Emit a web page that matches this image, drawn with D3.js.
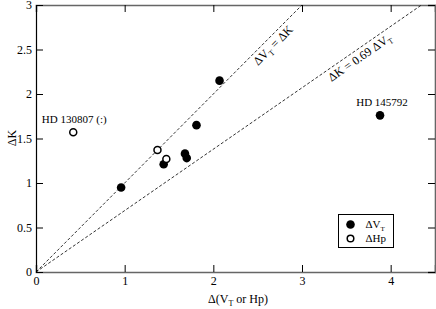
<!DOCTYPE html>
<html lang="en">
<head>
<meta charset="UTF-8">
<title>ΔK vs Δ(VT or Hp)</title>
<script src="https://cdn.jsdelivr.net/npm/d3@7"></script>
<style>
    body { margin: 0; background: #fff; }
    svg text { font-family: "Liberation Serif", "Times New Roman", serif; fill: #000; }
    .tick text { font-size: 12px; }
    .dash { fill: none; stroke: #000; stroke-width: 0.8; stroke-dasharray: 3,2; }
    .note { font-size: 11px; }
</style>
</head>
<body>
<svg width="436" height="309"></svg>
<script>
    // values
    const vtX = [0.96, 1.44, 1.68, 1.70, 1.81, 2.07, 3.88];
    const vtY = [0.95, 1.21, 1.33, 1.28, 1.65, 2.15, 1.76];
    const hpX = [0.42, 1.37, 1.47];
    const hpY = [1.57, 1.37, 1.27];
    const slopes = [1, 0.69];
    const xMajor = [0, 1, 2, 3, 4];
    const xMinor = [0.5, 1.5, 2.5, 3.5];
    const yMajor = [0, 0.5, 1, 1.5, 2, 2.5, 3];
    const yMinor = [0.25, 0.75, 1.25, 1.75, 2.25, 2.75];

    const svg = d3.select("svg").style("display", "block");
    const x = d3.scaleLinear().domain([0, 4.5]).range([36, 435]);
    const y = d3.scaleLinear().domain([0, 3]).range([272, 5]);

    // axes, ticks pointing inward on all four sides
    function addAxis(make, transform, major, minor, labels, stroke, sw) {
        const g = svg.append("g").attr("transform", transform);
        g.call(make().tickValues(minor).tickSize(-4).tickFormat(""));
        g.call(make().tickValues(major).tickSize(-7).tickPadding(4)
            .tickFormat(labels ? d3.format("") : ""));
        g.attr("font-family", null).attr("font-size", null);
        g.selectAll(".domain").attr("stroke", stroke).attr("stroke-width", sw);
        g.selectAll(".tick line").attr("stroke", "#000");
        return g;
    }
    addAxis(() => d3.axisBottom(x), "translate(0,272)", xMajor, xMinor, true, "#666", 1.6);
    addAxis(() => d3.axisTop(x), "translate(0,5)", xMajor, xMinor, false, "#666", 1.6);
    addAxis(() => d3.axisLeft(y), "translate(36,0)", yMajor, yMinor, true, "#000", 1.2);
    addAxis(() => d3.axisRight(y), "translate(435,0)", yMajor, yMinor, false, "#666", 1.6);

    // reference lines through the origin
    slopes.forEach(s => {
        const xEnd = Math.min(4.5, 3 / s);
        svg.append("line").attr("class", "dash")
            .attr("x1", x(0)).attr("y1", y(0))
            .attr("x2", x(xEnd)).attr("y2", y(s * xEnd));
    });

    function lineLabel(s, at, parts) {
        const ang = Math.atan2(y(s) - y(0), x(1) - x(0)) * 180 / Math.PI;
        const t = svg.append("text").style("font-size", "12px")
            .attr("text-anchor", "middle")
            .attr("transform", `translate(${x(at)},${y(s * at)}) rotate(${ang})`)
            .attr("y", 12);
        parts.forEach(p => {
            const sp = t.append("tspan").text(p[0]);
            if (p[1]) sp.style("font-size", "8px").attr("dy", 3);
            else if (p[2]) sp.attr("dy", -3);
        });
    }
    lineLabel(1, 2.61, [["ΔV"], ["T", 1], [" = ΔK", 0, 1]]);
    lineLabel(0.69, 3.6, [["ΔK = 0.69 ΔV"], ["T", 1]]);

    // points
    svg.append("g").selectAll("circle")
        .data(vtX.map((d, i) => [d, vtY[i]]))
        .join("circle")
        .attr("cx", d => x(d[0])).attr("cy", d => y(d[1]))
        .attr("r", 4.3).attr("fill", "#000");

    svg.append("g").selectAll("circle")
        .data(hpX.map((d, i) => [d, hpY[i]]))
        .join("circle")
        .attr("cx", d => x(d[0])).attr("cy", d => y(d[1]))
        .attr("r", 3.5).attr("fill", "#fff").attr("stroke", "#000").attr("stroke-width", 1.5);

    // star names
    svg.append("text").attr("class", "note").attr("text-anchor", "middle")
        .attr("x", x(3.88) + 2).attr("y", y(1.76) - 9).text("HD 145792");
    svg.append("text").attr("class", "note").attr("text-anchor", "middle")
        .attr("x", x(0.42) + 1).attr("y", y(1.57) - 9).text("HD 130807 (:)");

    // axis titles
    const xt = svg.append("text").attr("x", 208).attr("y", 303).style("font-size", "12px");
    xt.append("tspan").text("Δ(V");
    xt.append("tspan").text("T").style("font-size", "8px").attr("dy", 3);
    xt.append("tspan").text(" or Hp)").attr("dy", -3);

    svg.append("text").style("font-size", "12px").attr("text-anchor", "middle")
        .attr("transform", "translate(12,138) rotate(-90)").attr("dy", "0.35em").text("ΔK");

    // legend
    const lg = svg.append("g").attr("transform", "translate(338.5,214.5)");
    lg.append("rect").attr("width", 55).attr("height", 33)
        .attr("fill", "#fff").attr("stroke", "#000").attr("stroke-width", 1);
    lg.append("circle").attr("cx", 12).attr("cy", 10).attr("r", 4.3).attr("fill", "#000");
    lg.append("circle").attr("cx", 12).attr("cy", 24).attr("r", 3.3)
        .attr("fill", "#fff").attr("stroke", "#000").attr("stroke-width", 1.5);
    const l1 = lg.append("text").attr("class", "note").attr("x", 27).attr("y", 13);
    l1.append("tspan").text("ΔV");
    l1.append("tspan").text("T").style("font-size", "7px").attr("dy", 3);
    lg.append("text").attr("class", "note").attr("x", 27).attr("y", 27).text("ΔHp");
</script>
</body>
</html>
